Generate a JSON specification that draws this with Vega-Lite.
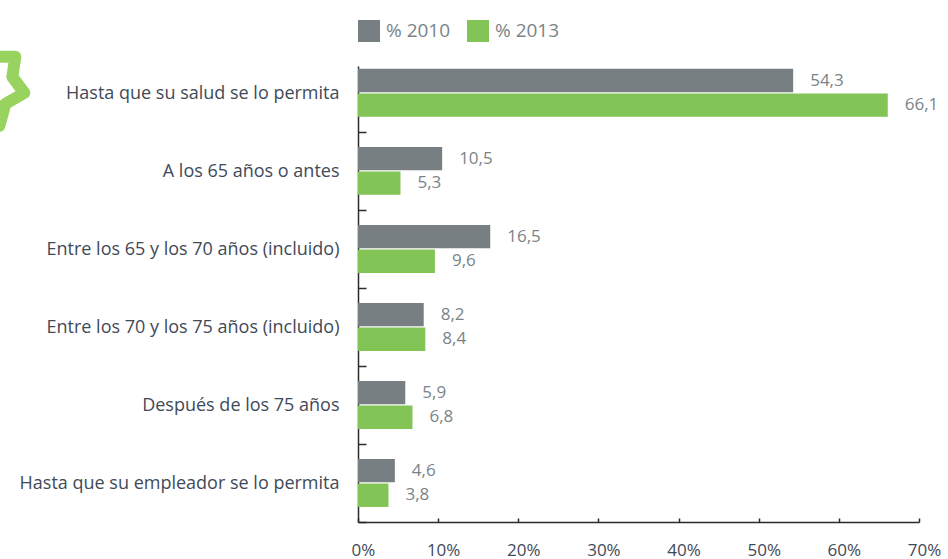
{
"$schema":"https://vega.github.io/schema/vega-lite/v6.json",
"width":561,"height":456,
"autosize":{"type":"none"},
"padding":{"left":358,"top":66,"right":29,"bottom":37},
"background":"white",
"config":{"view":{"stroke":null},"font":"Open Sans"},
"datasets":{
"barras":[
{"respuesta":"Hasta que su salud se lo permita","serie":"% 2010","valor":54.3,"etiqueta":"54,3"},
{"respuesta":"Hasta que su salud se lo permita","serie":"% 2013","valor":66.1,"etiqueta":"66,1"},
{"respuesta":"A los 65 años o antes","serie":"% 2010","valor":10.5,"etiqueta":"10,5"},
{"respuesta":"A los 65 años o antes","serie":"% 2013","valor":5.3,"etiqueta":"5,3"},
{"respuesta":"Entre los 65 y los 70 años (incluido)","serie":"% 2010","valor":16.5,"etiqueta":"16,5"},
{"respuesta":"Entre los 65 y los 70 años (incluido)","serie":"% 2013","valor":9.6,"etiqueta":"9,6"},
{"respuesta":"Entre los 70 y los 75 años (incluido)","serie":"% 2010","valor":8.2,"etiqueta":"8,2"},
{"respuesta":"Entre los 70 y los 75 años (incluido)","serie":"% 2013","valor":8.4,"etiqueta":"8,4"},
{"respuesta":"Después de los 75 años","serie":"% 2010","valor":5.9,"etiqueta":"5,9"},
{"respuesta":"Después de los 75 años","serie":"% 2013","valor":6.8,"etiqueta":"6,8"},
{"respuesta":"Hasta que su empleador se lo permita","serie":"% 2010","valor":4.6,"etiqueta":"4,6"},
{"respuesta":"Hasta que su empleador se lo permita","serie":"% 2013","valor":3.8,"etiqueta":"3,8"}
],
"estrella":[{"respuesta":"Hasta que su salud se lo permita","valor":-46}]
},
"encoding":{
"y":{"field":"respuesta","type":"nominal","sort":null,"title":null,
"scale":{"domain":["Hasta que su salud se lo permita","A los 65 años o antes","Entre los 65 y los 70 años (incluido)","Entre los 70 y los 75 años (incluido)","Después de los 75 años","Hasta que su empleador se lo permita"],"paddingInner":0.385,"paddingOuter":0.115,"align":0.16},
"axis":{"domainColor":"#2b2b2b","domainWidth":1.5,"tickColor":"#2b2b2b","tickWidth":1.5,"tickSize":-8,"tickOffset":39,"labelOffset":-38,"labelPadding":27,"labelFontSize":18,"labelColor":"#3f4a58","labelLimit":345,"labelFont":"Open Sans"}},
"x":{"field":"valor","type":"quantitative","title":null,
"scale":{"domain":[0,70],"nice":false,"zero":false},
"axis":{"values":[0,10,20,30,40,50,60,70],"labelExpr":"datum.value+'%'","grid":false,"domainColor":"#2b2b2b","domainWidth":1.5,"tickColor":"#2b2b2b","tickWidth":1.5,"tickSize":-4,"labelPadding":24,"labelOffset":5,"labelFontSize":17,"labelColor":"#3f4a58","labelFont":"Open Sans","labelFlush":false}}
},
"layer":[
{"data":{"name":"estrella"},
"mark":{"type":"point","shape":"M0.52 -0.72 L0.46 -0.32 L0.7 0 L0.32 0.22 L0.2 0.66 L-0.3 0.4 L-0.8 0.5 L-0.6 0 L-1 -0.4 L-0.4 -0.45 L-0.3 -0.72 Z","filled":false,"stroke":"#99d35f","strokeWidth":12,"strokeJoin":"round","size":10000,"opacity":1,"clip":false},
"encoding":{}},
{"data":{"name":"barras"},
"mark":{"type":"bar"},
"encoding":{
"yOffset":{"field":"serie","type":"nominal","sort":null,"scale":{"paddingInner":0.05}},
"color":{"field":"serie","type":"nominal","title":null,
"scale":{"domain":["% 2010","% 2013"],"range":["#787f83","#82c455"]},
"legend":{"orient":"none","legendX":0,"legendY":-46,"direction":"horizontal","columns":2,"symbolType":"square","symbolSize":484,"symbolStrokeWidth":0,"labelFontSize":19,"labelColor":"#7a8488","labelFont":"Open Sans","columnPadding":16,"labelOffset":6,"symbolOpacity":1}}
}},
{"data":{"name":"barras"},
"mark":{"type":"text","align":"left","baseline":"middle","dx":17,"dy":0,"fontSize":17,"color":"#7a8488","font":"Open Sans"},
"encoding":{
"yOffset":{"field":"serie","type":"nominal","sort":null,"scale":{"paddingInner":0.05}},
"text":{"field":"etiqueta","type":"nominal"}
}}
]
}
